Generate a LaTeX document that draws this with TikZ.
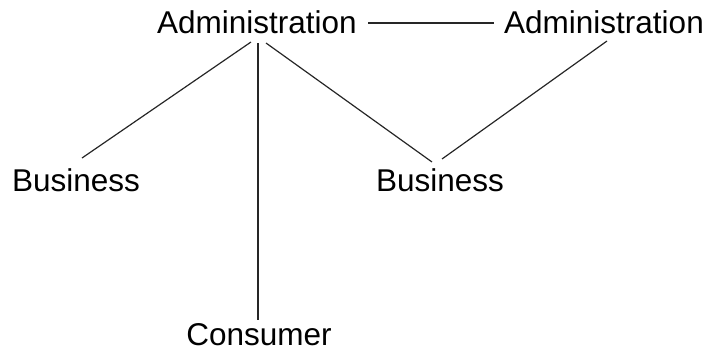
\documentclass[tikz,border=0pt]{standalone}
\usepackage{fontspec}
\setmainfont{Liberation Sans}
\usetikzlibrary{calc}
\begin{document}
\begin{tikzpicture}[x=1pt,y=-1pt,
  lbl/.style={inner sep=0pt,anchor=base,font=\fontsize{31.5}{34}\selectfont},
  conn/.style={line width=1.2pt,black!85}]
\useasboundingbox (0,0) rectangle (715,360);
\node[lbl] (al) at (257,33) {Administration};
\node[lbl] (ar) at (604,33) {Administration};
\node[lbl] (bl) at (76,191) {Business};
\node[lbl] (br) at (440,191) {Business};
\node[lbl] (c) at (259,345) {Consumer};
\draw[conn] ($(al.base)+(-6,9)$) -- ($(bl.base)+(6,-33)$);
\draw[conn] ($(al.base)+(1,10)$) -- ($(c.base)+(-1,-25)$);
\draw[conn] ($(al.base)+(9,10)$) -- ($(br.base)+(-8,-29)$);
\draw[conn] ($(ar.base)+(3,8)$) -- ($(br.base)+(2,-32)$);
\draw[conn] ($(al.base)+(111,-10)$) -- ($(ar.base)+(-110,-10)$);
\end{tikzpicture}
\end{document}
